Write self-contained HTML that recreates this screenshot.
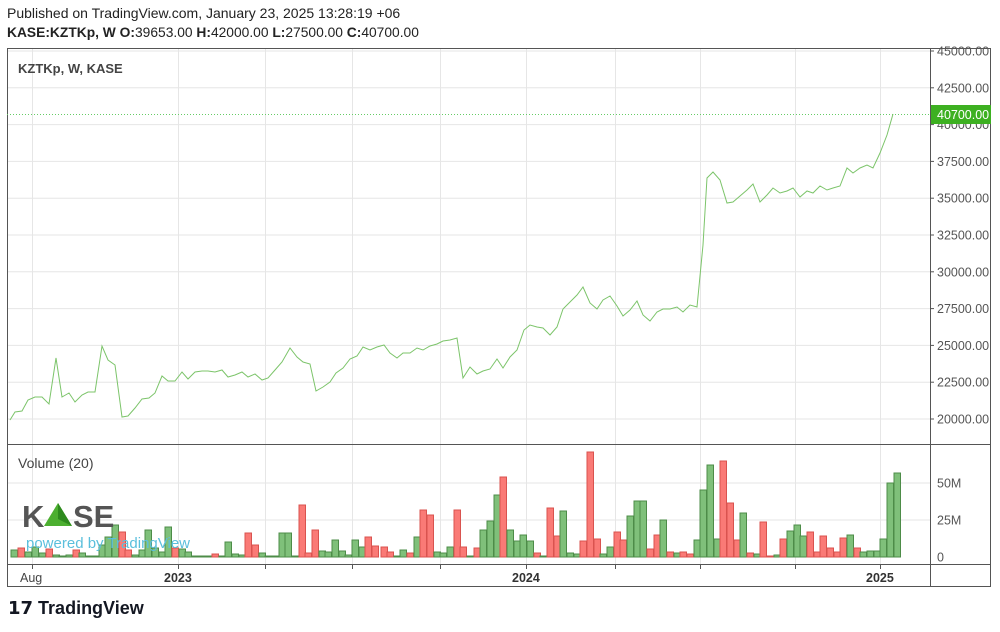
<!DOCTYPE html>
<html><head><meta charset="utf-8"><style>
body{margin:0;background:#fff;width:1000px;height:627px;overflow:hidden;font-family:"Liberation Sans",sans-serif}
</style></head><body>
<svg id="s" width="1000" height="627" xmlns="http://www.w3.org/2000/svg" font-family="Liberation Sans, sans-serif">
<text x="7" y="18" font-size="14" fill="#222">Published on TradingView.com, January 23, 2025 13:28:19 +06</text>
<text x="7" y="37" font-size="13.8" fill="#222"><tspan font-weight="bold">KASE:KZTKp, W  O:</tspan>39653.00 <tspan font-weight="bold">H:</tspan>42000.00 <tspan font-weight="bold">L:</tspan>27500.00 <tspan font-weight="bold">C:</tspan>40700.00</text>
<g id="grid" stroke="#e6e6e6" stroke-width="1"></g>
<rect x="7.5" y="48.5" width="983" height="538" fill="none" stroke="#555"/>
<line x1="930.5" y1="48" x2="930.5" y2="586" stroke="#555"/>
<line x1="7" y1="444.5" x2="990" y2="444.5" stroke="#555"/>
<line x1="7" y1="564.5" x2="990" y2="564.5" stroke="#555"/>
<g id="vol"></g>
<line x1="7" y1="114.5" x2="930" y2="114.5" stroke="#6c6" stroke-dasharray="1,2"/>
<polyline id="pl" fill="none" stroke="#7cc46a" stroke-width="1"/>
<text x="18" y="73" font-size="13" font-weight="bold" fill="#444">KZTKp, W, KASE</text>
<text x="18" y="468" font-size="14" fill="#444">Volume (20)</text>
<g id="ax" font-size="12.5" fill="#555"></g>
<rect x="931" y="105" width="60" height="19" fill="#3db021"/>
<text x="937" y="119" font-size="12.5" fill="#fff">40700.00</text>
<text x="22" y="527" font-size="31" font-weight="bold" fill="#555">K</text>
<polygon points="44,526 58,503 72,526" fill="#4caf30"/>
<polygon points="58,503 72,526 58,519" fill="#2e8a1e"/>
<text x="73" y="527" font-size="31" font-weight="bold" fill="#555">SE</text>
<text x="26" y="548" font-size="15" fill="#5bbfdc">powered by TradingView</text>
<g font-size="12.5">
<text x="20" y="582" fill="#444">Aug</text>
<text x="164" y="582" fill="#333" font-weight="bold">2023</text>
<text x="512" y="582" fill="#333" font-weight="bold">2024</text>
<text x="866" y="582" fill="#333" font-weight="bold">2025</text>
</g>
<text x="8" y="614" font-size="18" font-weight="bold" fill="#131722">𝟭𝟳 TradingView</text>
</svg>
<script>
var NS="http://www.w3.org/2000/svg";
function el(t,a,p){var e=document.createElementNS(NS,t);for(var k in a)e.setAttribute(k,a[k]);document.getElementById(p).appendChild(e);return e;}
[32,178,265,352,440,526,615,700,795,880].forEach(function(x){el("line",{x1:x+.5,y1:49,x2:x+.5,y2:564},"grid");el("line",{x1:x+.5,y1:564,x2:x+.5,y2:569,stroke:"#555"},"grid");});
for(var i=0;i<=10;i++){var p=45000-i*2500,y=51+(45000-p)*0.01472;el("line",{x1:8,y1:y,x2:930,y2:y},"grid");
var t=el("text",{x:937,y:y+4.5},"ax");t.textContent=p+".00";el("line",{x1:930,y1:y,x2:934,y2:y,stroke:"#555"},"ax");}
[[483,"50M"],[520,"25M"],[557,"0"]].forEach(function(a){if(a[1]!="0")el("line",{x1:8,y1:a[0],x2:930,y2:a[0]},"grid");var t=el("text",{x:937,y:a[0]+4.5},"ax");t.textContent=a[1];});
var pts="10,420 15,412 22,411 28,400 35,397 42,397 49,404 56,358 62,397 69,393 75,402 82,395 88,392 95,392 102,346 108,360 115,365 122,417 128,416 135,408 142,399 149,398 155,393 162,376 168,381 175,381 182,372 188,379 195,372 202,371 208,371 215,372 222,370 228,377 235,375 242,372 248,377 255,374 262,380 268,378 275,370 282,362 290,348 297,357 303,362 310,364 316,391 323,387 330,382 336,373 343,368 350,359 357,356 363,347 370,350 377,347 384,345 390,353 397,358 403,353 410,353 417,348 423,350 430,346 437,344 443,341 450,340 457,338 463,378 470,367 477,374 483,371 490,369 497,359 503,368 510,357 517,350 524,330 530,325 537,327 543,328 550,335 557,327 563,309 570,302 577,295 583,287 590,303 597,309 603,300 610,296 617,306 623,316 630,310 637,301 643,315 650,321 657,312 663,309 670,309 677,307 683,312 690,305 697,307 703,245 707,178 713,172 720,180 727,203 733,202 740,196 747,190 753,184 760,202 767,195 773,188 780,193 787,191 793,188 800,197 807,191 813,193 820,186 827,190 833,188 840,186 847,168 853,173 860,168 867,165 873,168 880,153 887,135 893,114";
document.getElementById("pl").setAttribute("points",pts);
var v="14g550 21r548 28g552 35g547 42g553 49r549 56g555 62g556 69g555 76r550 82g553 89g556 95g556 102g545 108g537 115g525 122r532 128r550 135g555 142g550 148g530 155g548 162g552 168g527 175r548 182g549 188g552 195g556 202g556 208g556 215r554 222g556 228g542 235g554 242g555 248r533 255r545 262g553 268g556 275g556 282g533 288g533 295g556 302r505 308r553 315r530 322g551 328g552 335g540 342g551 348g555 355g540 362g547 368r537 375r546 384r547 390r552 397g556 403g550 410r553 417g537 423r510 430r515 437g552 443g553 450g547 457r510 463r547 470g556 477r548 483g530 490g521 497g495 503r477 510g530 517g541 523g535 530g541 537r553 543g556 550r508 557r536 563g511 570g553 577g554 583r541 590r452 597r539 603g554 610g547 617r532 623r540 630g516 637g501 643g501 650r549 657r535 663g520 670r552 677g553 683r552 690r554 697g540 703g490 710g465 717g539 723r461 730r503 737r540 743g513 750r553 757g554 763r522 770r556 777g555 783r539 790g531 797g525 803g536 810r532 817r552 823r536 830r548 837r552 843r538 850g535 857r548 863g552 870g551 877g551 883g539 890g483 897g473";
v.split(" ").forEach(function(s){var m=s.match(/(\d+)([gr])(\d+)/);var x=+m[1],c=m[2],y=+m[3];
el("rect",{x:x-3,y:y,width:6.5,height:557-y,fill:c=="g"?"#7fc07a":"#fa7a76",stroke:c=="g"?"#4d8c48":"#d9534f","stroke-width":1},"vol");});
</script>
</body></html>
